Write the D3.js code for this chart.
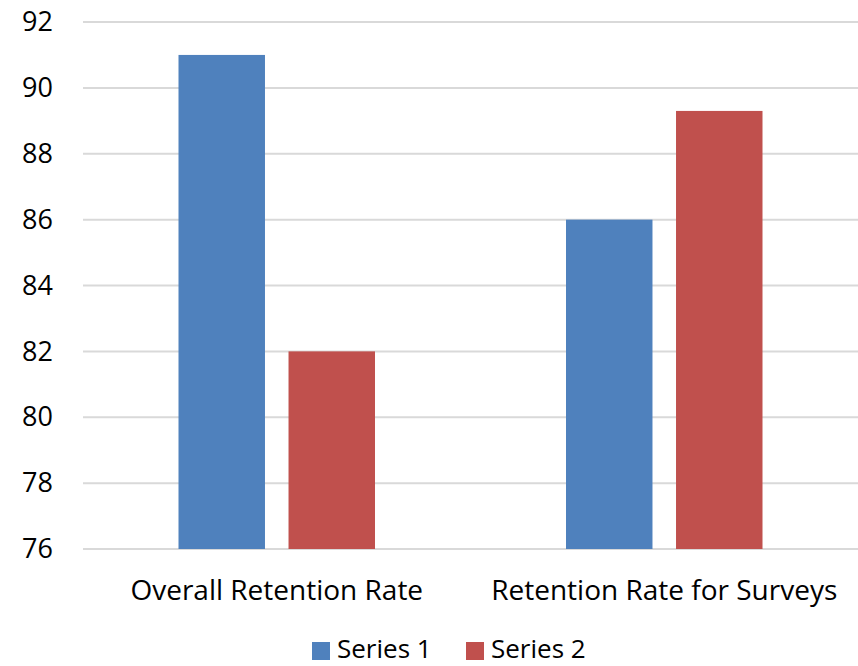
<!DOCTYPE html>
<html>
  <head>
    <style>
      body { margin: 0; background: #fff; }
      text { font-family: "Open Sans", sans-serif; fill: #000; }
    </style>
  </head>
  <body>
    <script src="https://cdn.jsdelivr.net/npm/d3@7"></script>
    <script>
      var categories = ["Overall Retention Rate", "Retention Rate for Surveys"];
      var seriesNames = ["Series 1", "Series 2"];
      var series1 = [91, 86];
      var series2 = [82, 89.3];
      var yTicks = [76, 78, 80, 82, 84, 86, 88, 90, 92];
      var colors = ["#4F81BD", "#C0504D"];

      var width = 858, height = 666;
      var margin = { top: 22, right: 0, bottom: 117, left: 83 };

      var svg = d3.select("body")
          .append("svg")
          .attr("width", width)
          .attr("height", height);

      var x = d3.scaleBand()
          .domain(categories)
          .range([margin.left, width - margin.right]);

      var y = d3.scaleLinear()
          .domain([76, 92])
          .range([height - margin.bottom, margin.top]);

      // inner band for the two series, centred in each category
      var groupW = 196.5;
      var x1 = d3.scaleBand()
          .domain(seriesNames)
          .range([(x.bandwidth() - groupW) / 2, (x.bandwidth() + groupW) / 2])
          .paddingInner(0.214)
          .paddingOuter(0);

      // gridlines
      svg.append("g")
        .selectAll("line")
        .data(yTicks)
        .enter()
        .append("line")
          .attr("x1", margin.left)
          .attr("x2", width - margin.right)
          .attr("y1", function(d) { return y(d); })
          .attr("y2", function(d) { return y(d); })
          .attr("stroke", "#d9d9d9")
          .attr("stroke-width", 2);

      // y axis labels
      var yAxis = d3.axisLeft(y).tickValues(yTicks).tickSize(0).tickPadding(0);
      svg.append("g")
        .attr("transform", "translate(53,0)")
        .call(yAxis)
        .call(function(g) { g.select(".domain").remove(); })
        .selectAll("text")
          .style("font-family", "'Open Sans', sans-serif")
          .style("font-size", "27px")
          .attr("fill", "#000");

      var rows = categories.map(function(c, i) {
        return { cat: c, values: [series1[i], series2[i]] };
      });

      var groups = svg.append("g")
        .selectAll("g")
        .data(rows)
        .enter()
        .append("g")
          .attr("transform", function(d) { return "translate(" + x(d.cat) + ",0)"; });

      groups.selectAll("rect")
        .data(function(d) {
          return d.values.map(function(v, j) { return { name: seriesNames[j], value: v, idx: j }; });
        })
        .enter()
        .append("rect")
          .attr("x", function(d) { return x1(d.name); })
          .attr("width", x1.bandwidth())
          .attr("y", function(d) { return y(d.value); })
          .attr("height", function(d) { return y(76) - y(d.value); })
          .attr("fill", function(d) { return colors[d.idx]; });

      // category labels
      var xAxis = d3.axisBottom(x).tickSize(0).tickPadding(0);
      svg.append("g")
        .attr("transform", "translate(0," + (y(76) + 31) + ")")
        .call(xAxis)
        .call(function(g) { g.select(".domain").remove(); })
        .selectAll("text")
          .style("font-family", "'Open Sans', sans-serif")
          .style("font-size", "28px")
          .attr("fill", "#000");

      // legend
      var legendX = [312, 466];
      var legend = svg.append("g")
        .selectAll("g")
        .data(seriesNames)
        .enter()
        .append("g")
          .attr("transform", function(d, i) { return "translate(" + legendX[i] + ",642)"; });

      legend.append("rect")
        .attr("width", 18)
        .attr("height", 18)
        .attr("fill", function(d, i) { return colors[i]; });

      legend.append("text")
        .attr("x", 25)
        .attr("y", 16)
        .style("font-size", "26px")
        .text(function(d) { return d; });
    </script>
  </body>
</html>
